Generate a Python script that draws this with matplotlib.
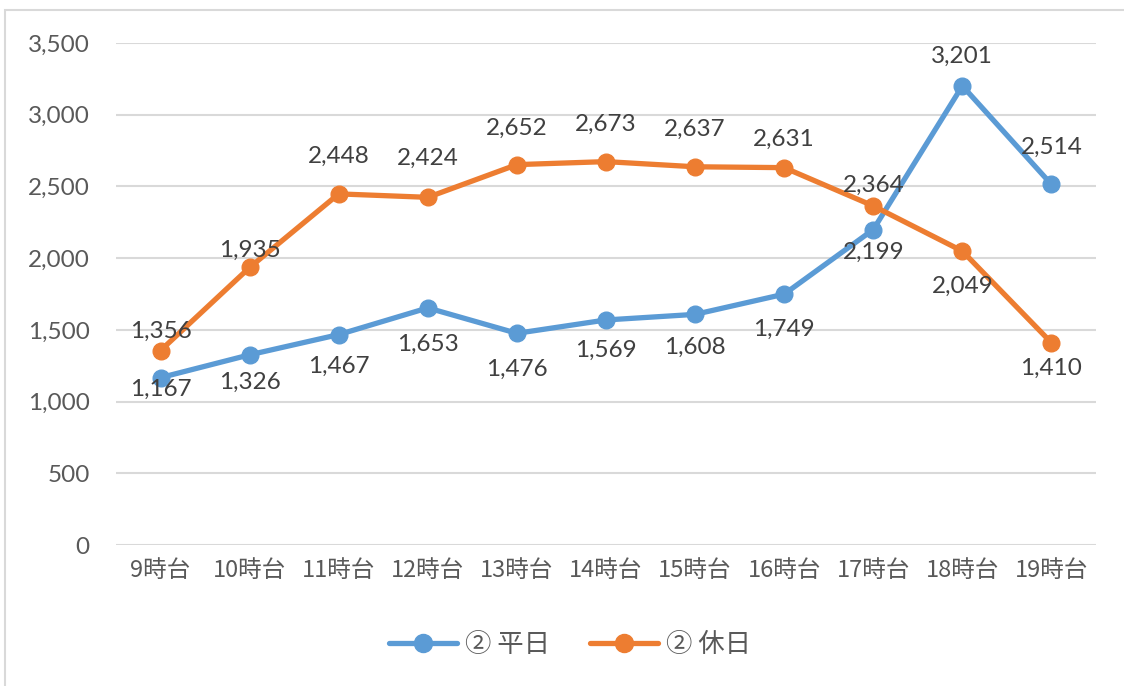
import matplotlib
matplotlib.use("Agg")
import matplotlib.pyplot as plt
from matplotlib.patches import Rectangle
from matplotlib.ticker import FuncFormatter, MultipleLocator

plt.rcParams['font.family'] = ['Noto Sans CJK JP', 'DejaVu Sans']

categories = ["9時台", "10時台", "11時台", "12時台", "13時台", "14時台",
              "15時台", "16時台", "17時台", "18時台", "19時台"]
weekday = [1167, 1326, 1467, 1653, 1476, 1569, 1608, 1749, 2199, 3201, 2514]
holiday = [1356, 1935, 2448, 2424, 2652, 2673, 2637, 2631, 2364, 2049, 1410]
series_names = ["② 平日", "② 休日"]

# label offsets in pixels (styling)
wk_off = [-12, -28, -32, -36, -36, -30, -33, -35, -23, 30, 37]
hd_off = [19, 17, 38, 39, 36, 37, 37, 28, 21, -35, -26]

blue = "#5B9BD5"
orange = "#ED7D31"
num_font = ['Lato', 'DejaVu Sans']

fig = plt.figure(figsize=(11.24, 6.86), dpi=100)
fig.patches.append(Rectangle((5/1124, -0.1), 1.2, 1.1 - 10/686,
                             transform=fig.transFigure, fill=False,
                             edgecolor="#D9D9D9", linewidth=1.5))
ax = fig.add_axes([116/1124, 1 - 545/686, (1096 - 116)/1124, (545 - 43)/686])

x = list(range(len(categories)))
ax.plot(x, weekday, color=blue, linewidth=3.8, marker='o', markersize=12,
        label=series_names[0], solid_capstyle='round', zorder=3)
ax.plot(x, holiday, color=orange, linewidth=3.8, marker='o', markersize=12,
        label=series_names[1], solid_capstyle='round', zorder=4)

for xi, v, o in zip(x, weekday, wk_off):
    ax.annotate(f"{v:,}", (xi, v), xytext=(0, o), textcoords='offset pixels',
                ha='center', va='center', fontsize=17.5, color="#404040",
                family=num_font, zorder=5)
for xi, v, o in zip(x, holiday, hd_off):
    ax.annotate(f"{v:,}", (xi, v), xytext=(0, o), textcoords='offset pixels',
                ha='center', va='center', fontsize=17.5, color="#404040",
                family=num_font, zorder=5)

ax.set_xlim(-0.5, len(categories) - 0.5)
ax.set_ylim(0, 3500)
ax.yaxis.set_major_locator(MultipleLocator(500))
ax.yaxis.set_major_formatter(FuncFormatter(lambda v, p: f"{int(v):,}"))
ax.grid(axis='y', color="#D9D9D9", linewidth=1.5, zorder=0)
ax.set_axisbelow(True)
for s in ax.spines.values():
    s.set_visible(False)
ax.tick_params(axis='both', length=0, colors="#595959")
ax.tick_params(axis='y', pad=19, labelsize=17.5)
ax.tick_params(axis='x', pad=10, labelsize=17)
ax.set_xticks(x)
ax.set_xticklabels(categories)
for lbl in ax.get_yticklabels():
    lbl.set_family(num_font)

leg = fig.legend(loc='center', bbox_to_anchor=(570/1124, 1 - 645/686), ncol=2,
                 frameon=False, fontsize=19, handlelength=2.6, columnspacing=1.5,
                 handletextpad=0.3)
for t in leg.get_texts():
    t.set_color("#595959")
for h in leg.legend_handles:
    h.set_markersize(13)

fig.savefig("out.png", dpi=100)
